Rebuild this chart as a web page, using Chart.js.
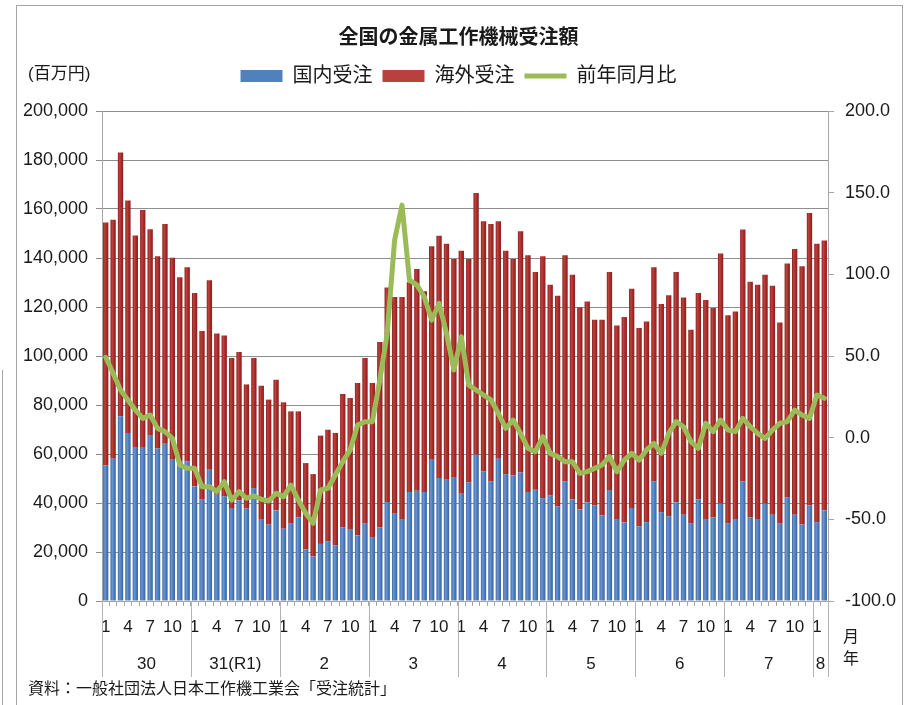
<!DOCTYPE html>
<html>
<head>
<meta charset="utf-8">
<script src="https://cdn.jsdelivr.net/npm/chart.js@4.4.1/dist/chart.umd.min.js"></script>
<style>
  html, body { margin: 0; padding: 0; background: #ffffff; }
  #c { display: block; }
</style>
</head>
<body>
<canvas id="c" width="910" height="705"></canvas>
<script>
// ---- data (百万円 / %) ----
const yearLabels = ['30', '31(R1)', '2', '3', '4', '5', '6', '7', '8'];
const monthsPerYear = [12, 12, 12, 12, 12, 12, 12, 12, 2];
const monthTickLabels = ['1', '4', '7', '10'];

const domestic = [
  55400, 58100, 75400, 68600, 62900, 62900, 67500, 62200, 64500, 57700, 57000, 57000,
  46800, 41600, 53600, 43400, 42700, 37700, 41100, 37700, 46100, 33200, 31200, 37000,
  29500, 31800, 34100, 21000, 18200, 23300, 24400, 22700, 30100, 29100, 26800, 31800,
  26100, 30100, 40400, 35900, 33200, 44500, 45000, 44500, 57700, 50200, 49500, 50600,
  43800, 48400, 59700, 52900, 48800, 58100, 51800, 51200, 52500, 44500, 45400, 42000,
  43100, 38600, 48800, 41400, 37300, 40300, 39000, 35000, 45000, 33200, 32100, 38000,
  30500, 32200, 48800, 36300, 34600, 40300, 35200, 31800, 41400, 33200, 34100, 39700,
  31800, 33500, 48800, 34100, 33200, 39700, 35200, 31800, 42400, 35200, 31200, 39000,
  32200, 37000
];
const overseas = [
  99100, 97500, 107700, 94900, 86300, 96700, 84200, 78500, 89400, 82400, 75100, 79200,
  78900, 68600, 77300, 65800, 65700, 61500, 60500, 50700, 53100, 54700, 51000, 53300,
  51600, 45600, 43300, 35300, 33600, 44200, 45500, 45900, 54400, 53800, 62200, 67400,
  62900, 75600, 87600, 88200, 90900, 85600, 90500, 81900, 87100, 98900, 96300, 89000,
  99200, 91200, 106800, 102100, 105100, 96900, 91200, 88400, 98400, 96600, 88900, 98700,
  86000, 86000, 92300, 91800, 82600, 81900, 75800, 79800, 89300, 79300, 83800, 89500,
  80900, 81900, 87400, 84900, 90200, 94000, 88700, 78900, 84300, 89700, 85500, 102100,
  84800, 84700, 102800, 96200, 95900, 93500, 93500, 81900, 95400, 108500, 105400, 119400,
  113600, 110100
];
const yoy = [
  49.2, 39.4, 29.2, 23.1, 17.0, 11.8, 13.9, 5.7, 3.7, -0.4, -16.7, -18.8,
  -18.8, -30.0, -30.0, -33.0, -27.0, -38.2, -33.0, -37.1, -35.7, -37.7, -38.8, -34.1,
  -36.1, -29.0, -38.2, -46.3, -52.4, -32.0, -31.0, -22.9, -14.7, -7.5, 7.7, 9.8,
  9.8, 35.3, 63.9, 121.0, 142.4, 96.5, 93.5, 86.3, 72.0, 82.2, 63.9, 41.4,
  61.8, 32.2, 29.2, 26.1, 23.1, 14.9, 5.7, 10.8, 2.6, -6.5, -8.6, 0.6,
  -9.6, -11.6, -14.7, -14.7, -21.8, -20.8, -18.8, -16.7, -11.6, -20.8, -13.7, -9.6,
  -13.7, -7.5, -3.5, -9.6, 2.6, 9.8, 6.7, -2.4, -6.5, 8.8, 3.7, 10.8,
  4.7, 3.7, 11.8, 6.7, 2.6, -0.4, 4.7, 8.8, 9.8, 16.9, 13.9, 11.8,
  26.1, 24.1
];
const seriesNames = ['国内受注', '海外受注', '前年同月比'];
const titleText = '全国の金属工作機械受注額';
const unitText = '(百万円)';
const sourceText = '資料：一般社団法人日本工作機工業会「受注統計」';

// ---- derived category structure ----
const categories = [];
const monthNumbers = [];
const yearCenters = [];
const yearBounds = [];
(function () {
  let idx = 0;
  yearLabels.forEach((y, k) => {
    yearBounds.push(idx - 0.5);
    yearCenters.push(idx + (monthsPerYear[k] - 1) / 2);
    for (let m = 1; m <= monthsPerYear[k]; m++) {
      categories.push(y + '年' + m + '月');
      monthNumbers.push(m);
      idx++;
    }
  });
  yearBounds.push(idx - 0.5);
})();

const FONT = "'Liberation Sans', 'Noto Sans CJK JP', sans-serif";
const TXT = '#1a1a1a';
Chart.defaults.font.family = FONT;
Chart.defaults.color = TXT;

const BAR_PCT = 0.72;
function barGradient(stops, flat) {
  return (c) => {
    const chart = c.chart;
    if (c.type !== 'data' || !chart.chartArea || !chart.scales.x) return flat;
    const xs = chart.scales.x;
    const x = xs.getPixelForValue(c.dataIndex);
    const step = Math.abs(xs.getPixelForValue(1) - xs.getPixelForValue(0));
    const hw = step * BAR_PCT / 2;
    const g = chart.ctx.createLinearGradient(x - hw, 0, x + hw, 0);
    stops.forEach(s => g.addColorStop(s[0], s[1]));
    return g;
  };
}
const blueStops = [[0, '#3c69a6'], [0.35, '#6a97d2'], [0.6, '#4f7fc0'], [1, '#3a64a0']];
const redStops = [[0, '#8a2220'], [0.35, '#c2403c'], [0.6, '#a82d2b'], [1, '#86201f']];
const legendFill = ['#4f81bd', '#b8413e', '#9bbb59'];

const decor = {
  id: 'decor',
  afterDraw(chart) {
    const { ctx, chartArea: ca } = chart;
    const x2 = chart.scales.x2;
    ctx.save();
    ctx.strokeStyle = '#a6a6a6';
    ctx.lineWidth = 1;
    ctx.strokeRect(16.5, 5.5, 886, 720);
    ctx.beginPath(); ctx.moveTo(2.5, 370); ctx.lineTo(2.5, 705); ctx.stroke();
    ctx.strokeStyle = '#b4b4b4';
    yearBounds.forEach(b => {
      const px = Math.round(x2.getPixelForValue(b)) + 0.5;
      ctx.beginPath(); ctx.moveTo(px, ca.bottom); ctx.lineTo(px, 677); ctx.stroke();
    });
    ctx.fillStyle = TXT;
    ctx.textBaseline = 'middle';
    ctx.textAlign = 'left';
    ctx.font = "17px " + FONT;
    ctx.fillText(unitText, 28, 74);
    ctx.font = "16px " + FONT;
    ctx.fillText('月', 843, 638);
    ctx.fillText('年', 843, 660);
    ctx.fillText(sourceText, 28, 690);
    ctx.restore();
  }
};

new Chart(document.getElementById('c'), {
  type: 'bar',
  data: {
    labels: categories,
    datasets: [
      {
        label: seriesNames[0], data: domestic, xAxisID: 'x', yAxisID: 'y', stack: 's',
        backgroundColor: barGradient(blueStops, legendFill[0]), borderWidth: 0,
        barPercentage: BAR_PCT, categoryPercentage: 1, pointStyle: 'rect', order: 0
      },
      {
        label: seriesNames[1], data: overseas, xAxisID: 'x', yAxisID: 'y', stack: 's',
        backgroundColor: barGradient(redStops, legendFill[1]), borderWidth: 0,
        barPercentage: BAR_PCT, categoryPercentage: 1, pointStyle: 'rect', order: 0
      },
      {
        type: 'line', label: seriesNames[2], data: yoy, xAxisID: 'x', yAxisID: 'y1',
        borderColor: '#9bbb59', backgroundColor: '#9bbb59', borderWidth: 5,
        pointRadius: 0, pointHoverRadius: 0, tension: 0, pointStyle: 'line',
        borderJoinStyle: 'round', borderCapStyle: 'round', order: -1
      }
    ]
  },
  options: {
    responsive: false,
    animation: false,
    layout: { padding: { top: 26, left: 17, right: 10, bottom: 30 } },
    plugins: {
      title: {
        display: true, text: titleText, color: TXT,
        font: { size: 20, weight: 'bold', family: FONT, lineHeight: 1.2 },
        padding: { top: 0, bottom: 6 }
      },
      subtitle: {
        display: true, text: '', position: 'top', weight: 100,
        font: { size: 10, lineHeight: 1 }, padding: { top: 0, bottom: 5 }
      },
      legend: {
        display: true, position: 'top',
        labels: {
          usePointStyle: true, pointStyleWidth: 42, boxHeight: 12, padding: 10,
          color: TXT, font: { size: 20, family: FONT },
          sort: (a, b) => a.datasetIndex - b.datasetIndex,
          generateLabels: (chart) => {
            const items = Chart.defaults.plugins.legend.labels.generateLabels(chart);
            items.forEach(it => {
              it.fillStyle = legendFill[it.datasetIndex];
              if (it.datasetIndex === 2) { it.strokeStyle = '#9bbb59'; it.lineWidth = 5; }
            });
            return items;
          }
        }
      },
      tooltip: { enabled: false }
    },
    scales: {
      x: {
        type: 'category', stacked: true, position: 'bottom', weight: 0, offset: true,
        grid: { display: true, drawOnChartArea: false, offset: true, tickLength: 5, color: '#a6a6a6' },
        border: { display: true, color: '#a6a6a6' },
        ticks: {
          autoSkip: false, maxRotation: 0, minRotation: 0, padding: 11,
          font: { size: 17 }, color: TXT,
          callback: (v, i) => monthTickLabels.includes(String(monthNumbers[v])) ? String(monthNumbers[v]) : ''
        },
        afterFit: (s) => { s.height = 36; }
      },
      x2: {
        type: 'linear', position: 'bottom', weight: 1, offset: false, bounds: 'data',
        min: -0.5, max: categories.length - 0.5,
        grid: { display: false, drawTicks: false, offset: false }, border: { display: false },
        afterBuildTicks: (axis) => { axis.ticks = yearCenters.map(v => ({ value: v })); },
        ticks: {
          autoSkip: false, maxRotation: 0, minRotation: 0, padding: 17,
          font: { size: 17 }, color: TXT,
          callback: (v, i) => yearLabels[i]
        },
        afterFit: (s) => { s.height = 38; }
      },
      y: {
        type: 'linear', stacked: true, position: 'left', min: 0, max: 200000, z: 1,
        grid: { color: 'rgba(60,60,60,0.58)', tickLength: 6, drawTicks: true },
        border: { display: true, color: '#a6a6a6' },
        ticks: { stepSize: 20000, padding: 8, font: { size: 18 }, color: TXT,
          callback: v => Number(v).toLocaleString('en-US') },
        afterFit: (s) => { s.width = 85; }
      },
      y1: {
        type: 'linear', position: 'right', min: -100, max: 200,
        grid: { drawOnChartArea: false, tickLength: 6, color: '#a6a6a6' },
        border: { display: true, color: '#a6a6a6' },
        ticks: { stepSize: 50, padding: 11, font: { size: 18 }, color: TXT,
          callback: v => Number(v).toFixed(1) },
        afterFit: (s) => { s.width = 72; }
      }
    }
  },
  plugins: [decor]
});
</script>
</body>
</html>
